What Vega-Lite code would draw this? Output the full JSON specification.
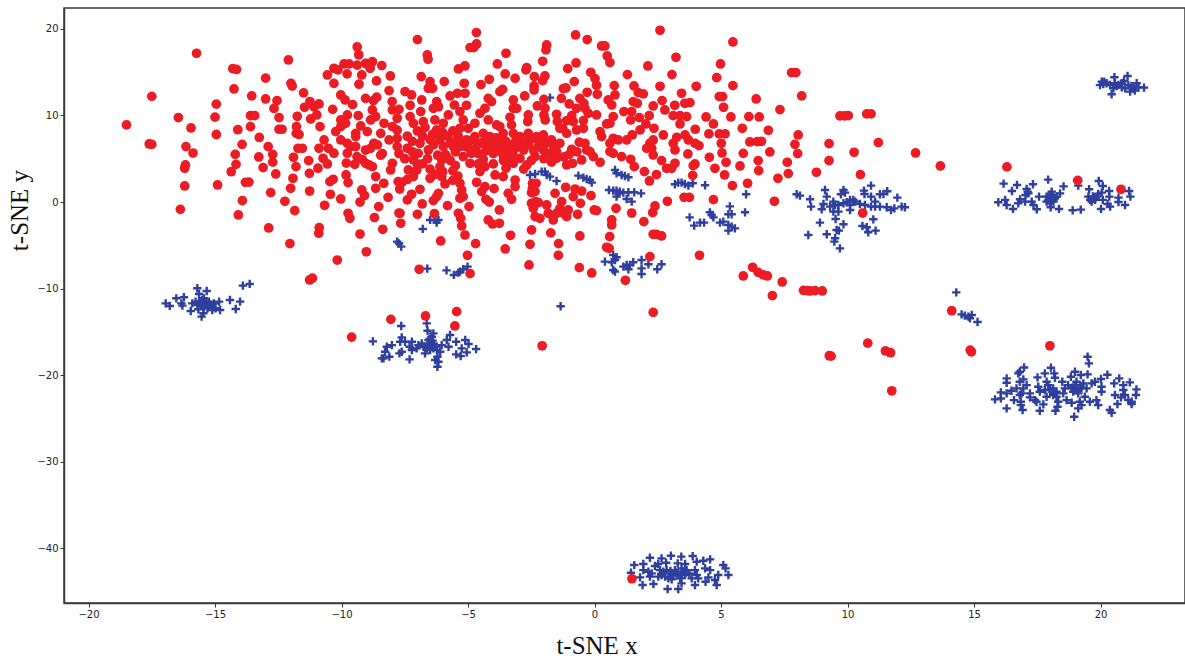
{"$schema":"https://vega.github.io/schema/vega-lite/v6.json","width":1121,"height":595,"autosize":{"type":"none"},"padding":{"left":64,"top":8,"right":0,"bottom":55},"background":"white","view":{"stroke":"#3a3a3a","strokeWidth":1.5,"fill":"white"},
"config":{"axis":{"grid":false,"labelFont":"DejaVu Sans","labelFontSize":10,"labelColor":"#222222","tickColor":"#333333","tickSize":4,"domainColor":"#3a3a3a","domainWidth":1.5,"titleFont":"Liberation Serif","titleFontSize":25,"titleFontWeight":"normal","titleColor":"#111111"}},
"datasets":{"blue":[
{"x":-1.76,"y":12.05},{"x":-6.5,"y":-2.07},{"x":-6.31,"y":-2.07},{"x":-6.17,"y":-2.07},{"x":-6.24,"y":-2.38},{"x":-6.79,"y":-3.11},{"x":-7.8,"y":-4.58},{"x":-7.73,"y":-4.77},{"x":-7.64,"y":-5.15},{"x":-2.55,"y":3.12},{"x":-2.35,"y":3.24},{"x":-2.09,"y":3.51},{"x":-1.96,"y":3.51},{"x":-1.89,"y":3.12},{"x":-1.76,"y":2.93},{"x":-1.5,"y":2.43},{"x":-0.64,"y":3.05},{"x":-0.44,"y":2.81},{"x":-0.31,"y":2.66},{"x":-0.18,"y":2.54},{"x":-0.11,"y":2.24},{"x":0.81,"y":3.7},{"x":0.87,"y":3.32},{"x":1.07,"y":3.12},{"x":1.2,"y":3},{"x":1.34,"y":2.85},{"x":3.18,"y":2.05},{"x":3.31,"y":2.24},{"x":3.44,"y":2.24},{"x":3.57,"y":2.08},{"x":3.71,"y":1.89},{"x":3.88,"y":2.16},{"x":4.37,"y":1.93},{"x":5.99,"y":0.89},{"x":7.99,"y":0.89},{"x":0.57,"y":1.39},{"x":0.74,"y":1.31},{"x":0.87,"y":1.31},{"x":1,"y":1.2},{"x":0.87,"y":0.62},{"x":1.14,"y":1.08},{"x":1.34,"y":1.12},{"x":1.57,"y":1.12},{"x":1.84,"y":1},{"x":1.27,"y":0.35},{"x":1.47,"y":0.04},{"x":0.94,"y":1},{"x":3.76,"y":-1.77},{"x":3.94,"y":-2.73},{"x":4.17,"y":-2.38},{"x":4.33,"y":-2.38},{"x":4.56,"y":-1.19},{"x":4.63,"y":-1.5},{"x":4.7,"y":-1.77},{"x":5.35,"y":-0.5},{"x":5.29,"y":-1.42},{"x":5.42,"y":-1.42},{"x":5.95,"y":-1.19},{"x":4.96,"y":-2.38},{"x":5.09,"y":-2.27},{"x":5.29,"y":-2.65},{"x":5.42,"y":-2.84},{"x":5.55,"y":-3.04},{"x":5.29,"y":-3.31},{"x":0.74,"y":-6.12},{"x":0.87,"y":-6.38},{"x":0.81,"y":-6.69},{"x":0.41,"y":-6.88},{"x":0.68,"y":-6.96},{"x":0.74,"y":-7.85},{"x":0.81,"y":-8.04},{"x":1.14,"y":-7.46},{"x":1.27,"y":-7.27},{"x":1.4,"y":-7.27},{"x":1.53,"y":-6.96},{"x":1.34,"y":-7.77},{"x":1.86,"y":-6.69},{"x":2.13,"y":-7.19},{"x":2.65,"y":-7.19},{"x":1.86,"y":-7.66},{"x":1.86,"y":-8.31},{"x":2.48,"y":-7.77},{"x":-6.61,"y":-7.69},{"x":-5.85,"y":-7.89},{"x":-5.56,"y":-8.42},{"x":-5.32,"y":-8.04},{"x":-5.19,"y":-7.77},{"x":-5.02,"y":-7.46},{"x":-5.38,"y":-8.15},{"x":-1.34,"y":-12.04},
{"x":-16.95,"y":-11.7},{"x":-16.79,"y":-12},{"x":-16.53,"y":-11.12},{"x":-16.23,"y":-11},{"x":-16.33,"y":-11.7},{"x":-16.29,"y":-11.97},{"x":-15.7,"y":-9.96},{"x":-15.63,"y":-10.62},{"x":-15.33,"y":-10.27},{"x":-15.96,"y":-12.58},{"x":-15.66,"y":-12.39},{"x":-15.46,"y":-12.85},{"x":-15.53,"y":-13.24},{"x":-15.9,"y":-11.7},{"x":-15.77,"y":-11.5},{"x":-15.63,"y":-11.5},{"x":-15.5,"y":-11.31},{"x":-15.44,"y":-11.12},{"x":-15.37,"y":-11.5},{"x":-15.24,"y":-11.5},{"x":-15.5,"y":-11.89},{"x":-15.37,"y":-11.89},{"x":-15.3,"y":-12.27},{"x":-15.17,"y":-11.89},{"x":-15.11,"y":-12.47},{"x":-15.04,"y":-11.7},{"x":-14.84,"y":-11.5},{"x":-14.98,"y":-12.27},{"x":-14.8,"y":-12.47},{"x":-14.41,"y":-11.31},{"x":-14.01,"y":-11.5},{"x":-14.18,"y":-12.35},{"x":-13.9,"y":-9.66},{"x":-13.63,"y":-9.46},{"x":-15.57,"y":-11.7},{"x":-15.44,"y":-12.16},{"x":-15.7,"y":-11.89},{"x":-15.45,"y":-11.6},{"x":-15.35,"y":-11.7},{"x":-15.55,"y":-11.45},{"x":-15.25,"y":-11.7},
{"x":-8.76,"y":-16.09},{"x":-7.64,"y":-14.32},{"x":-6.63,"y":-14.01},{"x":-6.6,"y":-14.86},{"x":-6.37,"y":-15.17},{"x":-7.62,"y":-15.63},{"x":-7.68,"y":-16.13},{"x":-7.49,"y":-16.13},{"x":-8.01,"y":-16.52},{"x":-8.21,"y":-16.71},{"x":-8.28,"y":-17.29},{"x":-8.34,"y":-18.06},{"x":-8.11,"y":-17.86},{"x":-7.71,"y":-17.48},{"x":-7.62,"y":-17.29},{"x":-7.22,"y":-16.13},{"x":-7.31,"y":-16.71},{"x":-7.22,"y":-17.09},{"x":-7.31,"y":-18.17},{"x":-6.96,"y":-16.52},{"x":-6.83,"y":-16.32},{"x":-6.76,"y":-16.71},{"x":-7.03,"y":-16.9},{"x":-6.56,"y":-15.94},{"x":-6.5,"y":-16.32},{"x":-6.43,"y":-15.55},{"x":-6.63,"y":-16.9},{"x":-6.5,"y":-17.09},{"x":-6.37,"y":-16.9},{"x":-6.7,"y":-17.48},{"x":-6.23,"y":-17.09},{"x":-6.1,"y":-17.29},{"x":-6.04,"y":-16.52},{"x":-5.84,"y":-15.94},{"x":-5.77,"y":-16.71},{"x":-5.71,"y":-15.36},{"x":-5.47,"y":-16.13},{"x":-5.11,"y":-15.94},{"x":-4.98,"y":-16.4},{"x":-5.25,"y":-16.9},{"x":-5.05,"y":-17.36},{"x":-4.68,"y":-16.98},{"x":-5.47,"y":-17.59},{"x":-5.29,"y":-17.79},{"x":-6.21,"y":-17.86},{"x":-6.17,"y":-18.44},{"x":-6.21,"y":-19.02},{"x":-6.3,"y":-18.25},{"x":-8.41,"y":-18.06},{"x":-6.45,"y":-16.6},{"x":-6.35,"y":-16.4},{"x":-6.6,"y":-16.5},{"x":-6.4,"y":-16},{"x":-6.5,"y":-15.8},{"x":-6.25,"y":-16.7},
{"x":2.19,"y":-41.07},{"x":1.57,"y":-41.92},{"x":1.93,"y":-41.8},{"x":1.44,"y":-42.8},{"x":1.8,"y":-43.34},{"x":1.9,"y":-44.23},{"x":2.33,"y":-44.11},{"x":1.93,"y":-42.5},{"x":2.13,"y":-42.69},{"x":2.19,"y":-43.26},{"x":2.26,"y":-42.88},{"x":2.39,"y":-42.03},{"x":2.52,"y":-41.8},{"x":2.65,"y":-41.15},{"x":2.83,"y":-41.65},{"x":3.02,"y":-40.84},{"x":3.43,"y":-40.95},{"x":3.88,"y":-40.88},{"x":4.04,"y":-41.53},{"x":4.3,"y":-41.42},{"x":4.57,"y":-41.26},{"x":3.29,"y":-41.72},{"x":3.58,"y":-41.8},{"x":5.09,"y":-41.92},{"x":5.18,"y":-42.3},{"x":5.29,"y":-43.07},{"x":4.89,"y":-43.07},{"x":4.76,"y":-43.65},{"x":4.83,"y":-44.23},{"x":4.37,"y":-42.3},{"x":4.57,"y":-42.5},{"x":4.5,"y":-43.34},{"x":4.39,"y":-43.84},{"x":3.97,"y":-44.23},{"x":3.84,"y":-43.46},{"x":3.97,"y":-42.5},{"x":4.04,"y":-43.07},{"x":2.59,"y":-42.5},{"x":2.72,"y":-42.69},{"x":2.85,"y":-42.5},{"x":2.98,"y":-42.88},{"x":3.12,"y":-43.07},{"x":2.65,"y":-43.07},{"x":2.79,"y":-43.26},{"x":2.92,"y":-43.46},{"x":3.18,"y":-42.5},{"x":3.31,"y":-42.88},{"x":3.44,"y":-42.3},{"x":3.51,"y":-42.69},{"x":3.64,"y":-42.5},{"x":3.58,"y":-43.07},{"x":3.38,"y":-43.46},{"x":3.05,"y":-43.57},{"x":3.44,"y":-44.03},{"x":3.31,"y":-44.69},{"x":2.89,"y":-44.69},{"x":4.1,"y":-43.46},{"x":2.52,"y":-43.26},{"x":3.25,"y":-43.1},{"x":3.45,"y":-42.95},{"x":3.6,"y":-42.8},{"x":3.75,"y":-42.9},{"x":3,"y":-42.6},{"x":3.2,"y":-42.75},
{"x":19.49,"y":-17.86},{"x":19.54,"y":-18.63},{"x":16.98,"y":-19.1},{"x":16.81,"y":-19.6},{"x":16.75,"y":-19.79},{"x":18.04,"y":-19.13},{"x":17.8,"y":-19.79},{"x":18.17,"y":-19.79},{"x":18.2,"y":-20.29},{"x":17.51,"y":-20.25},{"x":16.29,"y":-20.37},{"x":16.29,"y":-20.87},{"x":16.81,"y":-20.75},{"x":16.95,"y":-20.48},{"x":18.99,"y":-19.6},{"x":18.83,"y":-20.17},{"x":19.22,"y":-19.98},{"x":19.49,"y":-19.9},{"x":20.27,"y":-19.94},{"x":20.02,"y":-20.44},{"x":20.74,"y":-20.37},{"x":20.54,"y":-20.94},{"x":21.16,"y":-20.83},{"x":17.08,"y":-21.14},{"x":16.95,"y":-21.52},{"x":16.68,"y":-21.52},{"x":16.48,"y":-21.79},{"x":16.29,"y":-22.1},{"x":16.06,"y":-21.98},{"x":16.06,"y":-22.68},{"x":15.83,"y":-22.79},{"x":16.58,"y":-22.87},{"x":16.88,"y":-22.1},{"x":16.81,"y":-22.29},{"x":16.85,"y":-23.06},{"x":16.85,"y":-23.45},{"x":16.29,"y":-23.83},{"x":16.92,"y":-24.02},{"x":17.21,"y":-22.1},{"x":17.21,"y":-22.56},{"x":17.41,"y":-22.87},{"x":17.47,"y":-23.06},{"x":17.74,"y":-23.37},{"x":17.6,"y":-24.1},{"x":17.54,"y":-21.33},{"x":17.6,"y":-21.9},{"x":17.87,"y":-20.75},{"x":17.93,"y":-21.14},{"x":17.8,"y":-21.71},{"x":18,"y":-21.71},{"x":18.13,"y":-21.52},{"x":18.26,"y":-21.9},{"x":18.13,"y":-22.29},{"x":17.87,"y":-22.48},{"x":18.26,"y":-22.48},{"x":18.33,"y":-23.06},{"x":18.3,"y":-23.64},{"x":18.22,"y":-24.1},{"x":18.49,"y":-20.75},{"x":18.59,"y":-21.52},{"x":18.53,"y":-22.1},{"x":18.66,"y":-22.87},{"x":18.86,"y":-23.18},{"x":18.72,"y":-21.14},{"x":18.86,"y":-21.52},{"x":18.99,"y":-21.14},{"x":19.05,"y":-20.75},{"x":18.92,"y":-21.9},{"x":19.12,"y":-22.1},{"x":19.32,"y":-20.94},{"x":19.25,"y":-21.52},{"x":19.38,"y":-22.48},{"x":19.18,"y":-23.06},{"x":19.25,"y":-23.45},{"x":19.12,"y":-23.83},{"x":18.96,"y":-24.79},{"x":19.45,"y":-21.52},{"x":19.65,"y":-20.94},{"x":19.78,"y":-20.75},{"x":20.04,"y":-21.33},{"x":20.04,"y":-21.9},{"x":19.58,"y":-23.06},{"x":19.84,"y":-22.87},{"x":19.91,"y":-23.45},{"x":20.37,"y":-24.02},{"x":20.44,"y":-24.33},{"x":20.57,"y":-22.29},{"x":20.67,"y":-23.33},{"x":20.9,"y":-21.14},{"x":20.9,"y":-21.71},{"x":20.96,"y":-22.29},{"x":20.81,"y":-22.56},{"x":21.1,"y":-22.87},{"x":21.23,"y":-23.06},{"x":21.23,"y":-23.33},{"x":21.42,"y":-21.64},{"x":21.4,"y":-22.29},{"x":18.1,"y":-21.9},{"x":18.2,"y":-22.1},{"x":19,"y":-21.6},{"x":19.1,"y":-21.8},{"x":18.9,"y":-21.4},{"x":19.2,"y":-21.2},
{"x":19.98,"y":13.5},{"x":20.05,"y":13.9},{"x":20.15,"y":13.9},{"x":20.24,"y":13.71},{"x":20.38,"y":13.51},{"x":20.55,"y":14.4},{"x":20.57,"y":13.71},{"x":20.51,"y":13.13},{"x":20.44,"y":12.44},{"x":20.71,"y":13.51},{"x":20.84,"y":13.71},{"x":20.93,"y":13.98},{"x":20.84,"y":13.25},{"x":20.97,"y":13.13},{"x":21.07,"y":14.55},{"x":21.17,"y":12.74},{"x":21.3,"y":13.13},{"x":21.43,"y":13.71},{"x":21.5,"y":13.25},{"x":21.36,"y":12.86},{"x":21.72,"y":13.21},{"x":20.11,"y":13.63},{"x":21.1,"y":13.51},{"x":20.64,"y":13.4},{"x":21.23,"y":13.4},
{"x":16.17,"y":2.12},{"x":16.7,"y":1.97},{"x":16.5,"y":1.27},{"x":17.33,"y":2.05},{"x":17.93,"y":2.58},{"x":18.54,"y":1.81},{"x":19.12,"y":1.89},{"x":19.93,"y":2.43},{"x":20.09,"y":1.85},{"x":17.08,"y":1.5},{"x":17.15,"y":1},{"x":17.04,"y":0.81},{"x":15.96,"y":-0.03},{"x":16.23,"y":0.24},{"x":16.29,"y":-0.34},{"x":16.54,"y":-0.8},{"x":16.75,"y":-0.15},{"x":16.82,"y":0.31},{"x":17.02,"y":0.04},{"x":17.12,"y":1.2},{"x":17.28,"y":0.04},{"x":17.35,"y":-0.34},{"x":17.48,"y":-0.84},{"x":17.57,"y":0.62},{"x":17.87,"y":0.62},{"x":18,"y":0.81},{"x":18.07,"y":1.2},{"x":18.14,"y":0.62},{"x":17.94,"y":0.24},{"x":18.07,"y":0.24},{"x":18.2,"y":0.43},{"x":18.27,"y":0.62},{"x":18.4,"y":1},{"x":17.87,"y":0.04},{"x":18,"y":-0.15},{"x":18.14,"y":0.04},{"x":18.03,"y":-0.61},{"x":18.36,"y":-0.8},{"x":18.9,"y":-0.96},{"x":19.22,"y":-0.88},{"x":19.55,"y":1.47},{"x":19.52,"y":0.62},{"x":19.59,"y":0.24},{"x":19.72,"y":0.43},{"x":19.85,"y":0.62},{"x":19.91,"y":0.93},{"x":20.05,"y":1.08},{"x":19.65,"y":0.04},{"x":19.78,"y":0.24},{"x":20.34,"y":1.27},{"x":20.35,"y":0.62},{"x":20.09,"y":0.24},{"x":20.02,"y":-0.8},{"x":20.28,"y":-0.23},{"x":20.38,"y":-0.53},{"x":20.71,"y":0.5},{"x":20.71,"y":0},{"x":20.97,"y":-0.34},{"x":21.13,"y":1.27},{"x":21.18,"y":0.62},{"x":18,"y":0.45},{"x":18.1,"y":0.4},{"x":17.95,"y":0.6},{"x":19.7,"y":0.65},{"x":19.8,"y":0.4},
{"x":8.12,"y":0.74},{"x":8.52,"y":0.31},{"x":8.56,"y":-0.53},{"x":9.11,"y":1.39},{"x":9.18,"y":0.62},{"x":9.84,"y":1.39},{"x":9.9,"y":1.08},{"x":9.74,"y":0.89},{"x":10.65,"y":1.31},{"x":10.67,"y":0.93},{"x":10.93,"y":1.89},{"x":10.93,"y":0.62},{"x":11.28,"y":0.89},{"x":11.42,"y":0.93},{"x":11.57,"y":1.24},{"x":11.97,"y":0.5},{"x":8.98,"y":-0.84},{"x":9.05,"y":-0.23},{"x":9.31,"y":-0.53},{"x":9.44,"y":0.04},{"x":9.51,"y":-0.34},{"x":9.44,"y":-1.11},{"x":9.64,"y":-1.11},{"x":9.64,"y":-0.34},{"x":9.84,"y":-0.15},{"x":9.97,"y":-0.03},{"x":10.1,"y":0.24},{"x":10.23,"y":0.24},{"x":10.3,"y":0.04},{"x":10.1,"y":-0.34},{"x":10.1,"y":-0.92},{"x":10.49,"y":-0.23},{"x":10.69,"y":-0.34},{"x":10.93,"y":-0.53},{"x":11.09,"y":0.04},{"x":11.09,"y":-0.53},{"x":11.28,"y":-0.53},{"x":11.55,"y":-0.61},{"x":11.72,"y":-0.92},{"x":11.85,"y":-0.73},{"x":12.14,"y":-0.53},{"x":12.27,"y":-0.61},{"x":9.53,"y":-1.96},{"x":8.91,"y":-2.38},{"x":9.84,"y":-2.57},{"x":11.02,"y":-2},{"x":10.59,"y":-2.77},{"x":10.76,"y":-2.92},{"x":10.82,"y":-3.5},{"x":11.11,"y":-3.31},{"x":9.57,"y":-3.23},{"x":9.66,"y":-3.31},{"x":9.18,"y":-3.73},{"x":8.45,"y":-3.81},{"x":9.51,"y":-4.19},{"x":9.48,"y":-4.58},{"x":9.7,"y":-5.35},
{"x":14.3,"y":-10.43},{"x":14.51,"y":-12.97},{"x":14.64,"y":-13.12},{"x":14.78,"y":-13.24},{"x":14.91,"y":-13.04},{"x":14.84,"y":-13.43},{"x":15.14,"y":-13.85}
],"red":[
{"x":-15.73,"y":17.17},{"x":-12.1,"y":16.4},{"x":-9.38,"y":17.9},{"x":-9.32,"y":17},{"x":-14.3,"y":15.4},{"x":-14.15,"y":15.3},{"x":-13,"y":14.3},{"x":-17.5,"y":12.2},{"x":-14.25,"y":13.05},{"x":-12,"y":13.7},{"x":-11.95,"y":13.4},{"x":-11.5,"y":12.6},{"x":-13.55,"y":12.25},{"x":-13,"y":11.9},{"x":-12.55,"y":11.7},{"x":-14.95,"y":11.3},{"x":-12.67,"y":10.8},{"x":-16.45,"y":9.75},{"x":-15,"y":9.8},{"x":-18.5,"y":8.9},{"x":-15.95,"y":8.55},{"x":-13.6,"y":9.97},{"x":-13.43,"y":9.97},{"x":-12.47,"y":9.75},{"x":-13.6,"y":8.7},{"x":-14.1,"y":8.35},{"x":-14.95,"y":7.8},{"x":-12.47,"y":8.4},{"x":-12.35,"y":8.4},{"x":-13.25,"y":7.45},{"x":-17.6,"y":6.7},{"x":-17.5,"y":6.65},{"x":-16.15,"y":6.4},{"x":-15.87,"y":5.65},{"x":-13.93,"y":6.66},{"x":-12.9,"y":6.4},{"x":-14.2,"y":5.5},{"x":-13.27,"y":5.2},{"x":-12.72,"y":5.5},{"x":-12.72,"y":4.6},{"x":-16.17,"y":4.28},{"x":-16.2,"y":3.9},{"x":-14.17,"y":4.35},{"x":-13.1,"y":3.97},{"x":-14.36,"y":3.5},{"x":-12.6,"y":3.24},{"x":-13.8,"y":2.27},{"x":-13.66,"y":2.3},{"x":-14.9,"y":1.97},{"x":-16.2,"y":1.85},{"x":-12.8,"y":1.08},{"x":-13.92,"y":0.16},{"x":-12.24,"y":0.08},{"x":-16.37,"y":-0.85},{"x":-11.85,"y":-1},{"x":-14.08,"y":-1.5},{"x":-12.88,"y":-3},{"x":-10.88,"y":-2.96},{"x":-10.9,"y":-3.6},{"x":-12.04,"y":-4.8},{"x":-10.17,"y":-6.7},{"x":-9.02,"y":-5.75},{"x":-9.27,"y":-3.7},{"x":-8.37,"y":-3.15},{"x":-11.26,"y":-9},{"x":-11.15,"y":-8.8},{"x":-8.05,"y":-13.55},
{"x":-11.75,"y":9.9},{"x":-11.78,"y":8.7},{"x":-11.79,"y":7.93},{"x":-11.68,"y":7.8},{"x":-11.72,"y":6.2},{"x":-11.55,"y":6.2},{"x":-11.9,"y":5.16},{"x":-11.8,"y":4.08},{"x":-11.92,"y":2.74},{"x":-12.01,"y":1.58},{"x":-11.26,"y":1.27},{"x":-11.3,"y":4.78},{"x":-11.27,"y":3.3},{"x":-10.93,"y":3.9},{"x":-10.67,"y":-0.38},{"x":-10.46,"y":2.35},{"x":-10.33,"y":2.62},{"x":-10.44,"y":0.89},{"x":-10.03,"y":0.35},{"x":-9.74,"y":2.24},{"x":-9.82,"y":3.12},{"x":-9.74,"y":-1.3},{"x":-9.67,"y":-1.88},{"x":-9.2,"y":1.39},{"x":-9.09,"y":0.74},{"x":-9.27,"y":0},{"x":-8.65,"y":1.58},{"x":-8.33,"y":2.16},{"x":-8.16,"y":0.54},{"x":-8.53,"y":-0.53},{"x":-8.7,"y":-1.8},{"x":-7.73,"y":-1.27},{"x":-7.66,"y":-2.46},
{"x":-9.77,"y":10.05},{"x":-9.34,"y":9.97},{"x":-9.56,"y":11.24},{"x":-10.03,"y":12.36},{"x":-9.86,"y":11.78},{"x":-10.35,"y":10.7},{"x":-10.85,"y":8.7},{"x":-10.98,"y":10.05},{"x":-11.22,"y":9.59},{"x":-11.46,"y":10.94},{"x":-11.25,"y":11.6},{"x":-11.09,"y":11},{"x":-10.89,"y":11.32},{"x":-10.56,"y":14.67},{"x":-10.3,"y":15.44},{"x":-10.14,"y":15.25},{"x":-9.9,"y":15.94},{"x":-9.7,"y":15.94},{"x":-9.78,"y":14.8},{"x":-9.38,"y":15.8},{"x":-9.2,"y":14.67},{"x":-9.05,"y":16},{"x":-8.78,"y":16.2},{"x":-8.87,"y":15.44},{"x":-8.41,"y":15.75},{"x":-8.07,"y":14.55},{"x":-8.62,"y":13.98},{"x":-10.3,"y":13.7},{"x":-9.31,"y":13.6},{"x":-8.12,"y":12.86},{"x":-9.05,"y":11.97},{"x":-8.74,"y":11.7},{"x":-8.61,"y":12.1},{"x":-8,"y":11.59},{"x":-7.99,"y":10.63},{"x":-7.73,"y":10.7},{"x":-8.78,"y":10.63},{"x":-8.65,"y":9.86},{"x":-8.85,"y":9.47},{"x":-8.32,"y":9.09},{"x":-7.8,"y":9.67},{"x":-7.99,"y":8.7},{"x":-7.8,"y":8.3},{"x":-8.98,"y":8.13},{"x":-8.45,"y":7.93},{"x":-9.24,"y":8.78},{"x":-9.44,"y":7.93},{"x":-9.44,"y":7.55},{"x":-10.03,"y":9.47},{"x":-9.84,"y":9.09},{"x":-10.03,"y":8.7},{"x":-10.03,"y":7.16},{"x":-10.23,"y":8.13},{"x":-9.77,"y":6.78},{"x":-9.64,"y":6.4},{"x":-9.44,"y":6.4},{"x":-9.77,"y":5.63},{"x":-9.39,"y":5.24},{"x":-9.05,"y":6},{"x":-8.72,"y":6.78},{"x":-8.85,"y":6.2},{"x":-8.58,"y":6.6},{"x":-8.39,"y":5.6},{"x":-8.45,"y":5.4},{"x":-10.69,"y":7.16},{"x":-10.89,"y":6.2},{"x":-10.52,"y":6.2},{"x":-10.3,"y":5.63},{"x":-10.73,"y":5.05},{"x":-10.56,"y":4.39},{"x":-9.81,"y":4.5},{"x":-9.48,"y":4.35},{"x":-9.05,"y":4.47},{"x":-8.91,"y":4.28},{"x":-8.78,"y":4.08},{"x":-9.18,"y":4.9},{"x":-8.65,"y":2.93},{"x":-7.99,"y":4.47},{"x":-8.06,"y":3.7},{"x":-7.8,"y":6.4},{"x":-7.73,"y":5.6},{"x":-8.12,"y":7.16},{"x":-7.8,"y":7.35},{"x":-7.76,"y":2.35},{"x":-7.7,"y":1.5},
{"x":-7,"y":18.75},{"x":-4.67,"y":19.56},{"x":-4.92,"y":17.83},{"x":-4.66,"y":18.25},{"x":-4.77,"y":17.83},{"x":-6.61,"y":16.98},{"x":-6.58,"y":16.48},{"x":-3.5,"y":17.17},{"x":-0.75,"y":19.29},{"x":-0.29,"y":18.75},{"x":0.28,"y":18.02},{"x":0.41,"y":18.02},{"x":2.59,"y":19.83},{"x":5.47,"y":18.48},{"x":-1.89,"y":18.13},{"x":-1.92,"y":17.56},{"x":0.5,"y":16.86},{"x":0.61,"y":16.1},{"x":3.22,"y":16.71},{"x":2.11,"y":15.71},{"x":4.98,"y":15.94},{"x":-2.05,"y":16.25},{"x":-3.84,"y":15.94},{"x":-0.73,"y":16.05},{"x":-1.06,"y":15.4},{"x":-5.38,"y":15.36},{"x":-5.12,"y":15.71},{"x":-2.68,"y":15.52},{"x":-2.71,"y":15.25},{"x":-3.53,"y":14.78},{"x":-6.85,"y":14.48},{"x":-5.94,"y":13.9},{"x":-6.5,"y":13.9},{"x":-6.57,"y":13.13},{"x":-6.4,"y":13.13},{"x":-5.15,"y":13.71},{"x":-4.49,"y":13.55},{"x":-4.16,"y":14.17},{"x":-3.14,"y":14.28},{"x":-2.38,"y":14.48},{"x":-1.96,"y":14.55},{"x":-2.05,"y":14.01},{"x":-0.15,"y":14.98},{"x":0.02,"y":14.25},{"x":0.08,"y":13.48},{"x":-0.8,"y":13.9},{"x":1.3,"y":14.71},{"x":3.06,"y":14.71},{"x":4.83,"y":14.36},{"x":7.79,"y":14.94},{"x":7.96,"y":14.94},{"x":5.47,"y":13.44},{"x":4.02,"y":13.36},{"x":2.59,"y":13.36},{"x":1.56,"y":13.4},{"x":1.73,"y":12.63},{"x":1.93,"y":12.48},{"x":0.78,"y":13.44},{"x":0.81,"y":12.36},{"x":3.44,"y":12.55},{"x":-1.23,"y":13.09},{"x":-1.13,"y":13.17},{"x":-0.29,"y":12.67},{"x":0.11,"y":12.44},{"x":-2.39,"y":13.4},{"x":-2.39,"y":12.94},{"x":-3.74,"y":12.74},{"x":-3.63,"y":13},{"x":-2.76,"y":12.24},{"x":-2,"y":11.85},{"x":-1.31,"y":11.97},{"x":-1,"y":11.32},{"x":-0.58,"y":11.97},{"x":-0.42,"y":11.4},{"x":0.54,"y":11.78},{"x":0.68,"y":11.2},{"x":1.53,"y":11.59},{"x":1.69,"y":11.4},{"x":2.67,"y":11.71},{"x":3.17,"y":11.17},{"x":3.57,"y":11.4},{"x":3.77,"y":11.47},{"x":4.93,"y":12.17},{"x":5.06,"y":12.17},{"x":6.39,"y":11.9},{"x":5.1,"y":10.94},{"x":2.32,"y":11.09},{"x":2.78,"y":10.63},{"x":1.16,"y":10.44},{"x":1.47,"y":10.44},{"x":7.33,"y":10.67},{"x":6.1,"y":9.86},{"x":6.51,"y":9.82},{"x":5.39,"y":9.82},{"x":4.41,"y":9.82},{"x":3.11,"y":9.97},{"x":3.38,"y":9.97},{"x":3.64,"y":9.86},{"x":3.38,"y":9.01},{"x":2.16,"y":9.97},{"x":1.77,"y":9.74},{"x":1.43,"y":9.47},{"x":-0.71,"y":10.82},{"x":-0.38,"y":10.82},{"x":-0.25,"y":10.24},{"x":-0.9,"y":9.97},{"x":0.08,"y":10.05},{"x":0.74,"y":9.86},{"x":0.61,"y":9.09},{"x":0.48,"y":9.01},{"x":-1.1,"y":9.4},{"x":-0.84,"y":9.28},{"x":-0.44,"y":9.4},{"x":-1.5,"y":10.13},{"x":-1.47,"y":9.28},{"x":-1.37,"y":8.51},{"x":-1.96,"y":10.82},{"x":-2,"y":10.05},{"x":-1.95,"y":9.47},{"x":-2.26,"y":11.09},{"x":-2.62,"y":10.05},{"x":-2.64,"y":9.28},{"x":-3.21,"y":10.82},{"x":-3.08,"y":10.82},{"x":-3.21,"y":11.78},{"x":-4.2,"y":11.97},{"x":-4.07,"y":11.59},{"x":-4.33,"y":10.82},{"x":-4.53,"y":10.24},{"x":-4.2,"y":9.47},{"x":-3.34,"y":9.78},{"x":-3.28,"y":8.9},{"x":-3.87,"y":8.9},{"x":-3.74,"y":8.7},{"x":-4.73,"y":9.09},{"x":-5.06,"y":11.17},{"x":-5.54,"y":11.2},{"x":-5.42,"y":12.55},{"x":-5.12,"y":12.55},{"x":-5.71,"y":12.24},{"x":-6.24,"y":11.59},{"x":-6.37,"y":10.82},{"x":-6.17,"y":11},{"x":-6.83,"y":11.78},{"x":-6.87,"y":10.44},{"x":-7.29,"y":11.17},{"x":-7.23,"y":12.36},{"x":-7.49,"y":12.74},{"x":-7.29,"y":9.86},{"x":-7.16,"y":9.09},{"x":-6.77,"y":9.28},{"x":-6.31,"y":9.47},{"x":-5.78,"y":10.05},{"x":-5.98,"y":9.09},{"x":-6.24,"y":8.32},{"x":-5.32,"y":10.44},{"x":-5.19,"y":9.47},{"x":-4.99,"y":8.51},{"x":-5.32,"y":8.51},{"x":-5.38,"y":7.55},{"x":-5.06,"y":7.16},{"x":-4.73,"y":7.55},{"x":-4.4,"y":7.93},{"x":-4.13,"y":7.55},{"x":-3.8,"y":7.16},{"x":-3.61,"y":7.93},{"x":-3.21,"y":7.93},{"x":-2.95,"y":7.55},{"x":-2.62,"y":7.93},{"x":-2.29,"y":7.55},{"x":-2.02,"y":7.74},{"x":-1.7,"y":7.16},{"x":-1.37,"y":6.78},{"x":-1.1,"y":7.93},{"x":-1.26,"y":8.51},{"x":-0.71,"y":8.32},{"x":-0.44,"y":8.51},{"x":0.22,"y":8.13},{"x":0.28,"y":7.55},{"x":0.74,"y":7.36},{"x":0.61,"y":6.78},{"x":0.94,"y":7.16},{"x":1.27,"y":7.16},{"x":1.49,"y":7.74},{"x":1.8,"y":8.32},{"x":2.03,"y":9.01},{"x":2.35,"y":8.51},{"x":2.72,"y":7.74},{"x":3.25,"y":7.47},{"x":3.58,"y":7.74},{"x":3.71,"y":7.16},{"x":3.97,"y":6.78},{"x":4.13,"y":6.51},{"x":3.98,"y":8.4},{"x":4.7,"y":9.01},{"x":4.52,"y":7.86},{"x":4.93,"y":7.86},{"x":5.16,"y":7.86},{"x":5.01,"y":6.78},{"x":5.04,"y":5.66},{"x":5.84,"y":8.51},{"x":6.87,"y":8.28},{"x":6.14,"y":6.93},{"x":6.43,"y":6.97},{"x":6.6,"y":7.01},{"x":5.88,"y":5.62},{"x":7.92,"y":6.66},{"x":8.05,"y":7.74},{"x":8.03,"y":5.59},{"x":6.93,"y":5.78},{"x":4.54,"y":5.16},{"x":3.69,"y":5.55},{"x":2.32,"y":7.16},{"x":2.19,"y":6.78},{"x":2.06,"y":6.2},{"x":2.26,"y":6.2},{"x":3.11,"y":6.78},{"x":3.18,"y":6.01},{"x":2.32,"y":5.43},{"x":2.65,"y":4.78},{"x":3.18,"y":4.47},{"x":2.85,"y":3.89},{"x":3.05,"y":3.89},{"x":3.97,"y":4.39},{"x":3.9,"y":4.2},{"x":4.76,"y":3.89},{"x":5.2,"y":4.59},{"x":5.75,"y":4.16},{"x":6.47,"y":4.78},{"x":6.49,"y":3.62},{"x":7.62,"y":4.59},{"x":7.66,"y":3.28},{"x":7.25,"y":2.74},{"x":5.14,"y":3.12},{"x":3.88,"y":3.08},{"x":2.45,"y":3.16},{"x":1.97,"y":3.51},{"x":2.17,"y":2.43},{"x":1.43,"y":4.93},{"x":1.57,"y":4.08},{"x":1.07,"y":5.24},{"x":0.74,"y":5.62},{"x":0.61,"y":5.82},{"x":0.22,"y":4.59},{"x":-0.05,"y":5.24},{"x":-0.18,"y":5.82},{"x":-0.38,"y":6.78},{"x":-0.31,"y":6.01},{"x":-0.51,"y":4.85},{"x":-0.9,"y":6.09},{"x":-0.87,"y":4.47},{"x":-1.1,"y":4.28},{"x":-1.5,"y":5.05},{"x":-1.76,"y":5.62},{"x":-2.02,"y":6.01},{"x":-2.22,"y":6.4},{"x":-2.35,"y":5.24},{"x":-2.68,"y":4.28},{"x":-2.95,"y":5.05},{"x":-3.21,"y":4.47},{"x":-3.21,"y":5.24},{"x":-3.47,"y":6.2},{"x":-3.74,"y":6.4},{"x":-4,"y":6.78},{"x":-4.26,"y":6.4},{"x":-4.53,"y":6.78},{"x":-4.86,"y":5.62},{"x":-5.19,"y":5.24},{"x":-5.32,"y":6.4},{"x":-5.45,"y":7.16},{"x":-5.58,"y":6.4},{"x":-5.85,"y":5.24},{"x":-6.04,"y":4.85},{"x":-5.98,"y":6.4},{"x":-6.11,"y":7.16},{"x":-6.37,"y":6.59},{"x":-6.57,"y":6.01},{"x":-6.9,"y":6.78},{"x":-6.97,"y":5.62},{"x":-7.16,"y":4.85},{"x":-7.36,"y":3.7},{"x":-7.03,"y":3.7},{"x":-7.16,"y":2.93},{"x":-6.11,"y":4.08},{"x":-6.04,"y":2.93},{"x":-5.91,"y":2.08},{"x":-6.5,"y":2.74},{"x":-6.9,"y":1.47},{"x":-7.23,"y":0.89},{"x":-7.4,"y":0.24},{"x":-6.17,"y":1},{"x":-6.24,"y":0.62},{"x":-6.37,"y":0.16},{"x":-6.81,"y":-0.23},{"x":-7.69,"y":-1.3},{"x":-7,"y":-1.42},{"x":-6.33,"y":-1.34},{"x":-5.81,"y":-0.42},{"x":-5.32,"y":2.16},{"x":-5.25,"y":1.39},{"x":-5.32,"y":0.43},{"x":-5.19,"y":0.62},{"x":-4.96,"y":-0.53},{"x":-5.38,"y":-1.3},{"x":-5.29,"y":-1.88},{"x":-5.25,"y":-2.77},{"x":-5.12,"y":-3.81},{"x":-4.7,"y":-4.81},{"x":-5.02,"y":-6.15},{"x":-6.08,"y":-4.5},{"x":-6.93,"y":-7.77},{"x":-4.92,"y":-8.27},{"x":-5.45,"y":-12.66},{"x":-5.52,"y":-14.31},{"x":-6.68,"y":-13.16},{"x":-4.92,"y":4.47},{"x":-4.53,"y":3.51},{"x":-4.33,"y":4.08},{"x":-4.66,"y":2.28},{"x":-4.46,"y":1.2},{"x":-4.33,"y":1.78},{"x":-3.97,"y":1.54},{"x":-3.93,"y":3.12},{"x":-3.61,"y":2.93},{"x":-3.14,"y":2.54},{"x":-3.14,"y":1.78},{"x":-3.41,"y":1},{"x":-3.28,"y":0.31},{"x":-4.29,"y":0.31},{"x":-4.16,"y":0},{"x":-3.76,"y":-0.92},{"x":-4.2,"y":-2.07},{"x":-4.03,"y":-2.54},{"x":-3.76,"y":-2.46},{"x":-3.32,"y":-3.84},{"x":-2.49,"y":-3.23},{"x":-2.55,"y":-4.88},{"x":-3.53,"y":-5.42},{"x":-2.59,"y":-7.27},{"x":-1.73,"y":-3.57},{"x":-1.42,"y":-4.81},{"x":-1.43,"y":-6.15},{"x":-0.58,"y":-3.92},{"x":-0.6,"y":-7.58},{"x":-0.11,"y":-8.19},{"x":-2.45,"y":2.16},{"x":-2.31,"y":2.16},{"x":-2.45,"y":1.58},{"x":-2.35,"y":1.2},{"x":-2.49,"y":1.08},{"x":-2.33,"y":0.04},{"x":-2.49,"y":-0.15},{"x":-2.22,"y":-0.07},{"x":-2.42,"y":-0.73},{"x":-2.35,"y":-1.69},{"x":-2.16,"y":-1.88},{"x":-1.89,"y":-0.34},{"x":-1.56,"y":1},{"x":-1.14,"y":1.7},{"x":-0.77,"y":1.5},{"x":-0.51,"y":1.27},{"x":-0.14,"y":0.74},{"x":-0.84,"y":0.62},{"x":-0.56,"y":-0.15},{"x":-0.67,"y":-1.42},{"x":-1.83,"y":-1.3},{"x":-1.3,"y":0.04},{"x":-1.37,"y":-0.73},{"x":-1.63,"y":-2.07},{"x":-1.5,"y":-1.3},{"x":-1.23,"y":-1.3},{"x":-1.1,"y":-1.69},{"x":-1.04,"y":-0.92},{"x":-0.01,"y":-0.92},{"x":0.08,"y":-1},{"x":0.85,"y":-0.73},{"x":1.47,"y":-1.27},{"x":0.68,"y":-2.07},{"x":0.68,"y":-2.65},{"x":0.6,"y":-4},{"x":0.48,"y":-5.23},{"x":0.58,"y":-5.35},{"x":1.95,"y":-2.27},{"x":2.3,"y":-1.23},{"x":2.39,"y":-0.46},{"x":2.88,"y":0.08},{"x":3.54,"y":0.54},{"x":3.75,"y":0.54},{"x":4.7,"y":0.27},{"x":7.11,"y":0.08},{"x":6.05,"y":2.16},{"x":5.45,"y":1.89},{"x":2.19,"y":-6.31},{"x":1.22,"y":-9.04},{"x":2.32,"y":-3.73},{"x":2.45,"y":-3.73},{"x":2.65,"y":-3.92},{"x":2.32,"y":-12.74},{"x":4.15,"y":-6.15},{"x":5.88,"y":-8.54},{"x":6.25,"y":-7.54},{"x":6.47,"y":-8.12},{"x":6.67,"y":-8.42},{"x":6.83,"y":-8.54},{"x":7.42,"y":-9.23},{"x":7.03,"y":-10.81},
{"x":-7.4,"y":7.6},{"x":-7.2,"y":7},{"x":-7,"y":8.2},{"x":-6.8,"y":7.6},{"x":-6.7,"y":8.6},{"x":-6.5,"y":7.2},{"x":-6.2,"y":7.8},{"x":-6,"y":8},{"x":-5.8,"y":7.6},{"x":-5.7,"y":6.8},{"x":-5.6,"y":8.2},{"x":-5.5,"y":5.8},{"x":-5.3,"y":7},{"x":-5.1,"y":6.4},{"x":-5,"y":6.9},{"x":-4.9,"y":6},{"x":-4.8,"y":7.2},{"x":-4.7,"y":6.2},{"x":-4.6,"y":5.6},{"x":-4.4,"y":6.9},{"x":-4.3,"y":5.9},{"x":-4.2,"y":7.2},{"x":-4.1,"y":6.1},{"x":-4,"y":5.6},{"x":-3.9,"y":7.4},{"x":-3.8,"y":5.9},{"x":-3.7,"y":6.9},{"x":-3.6,"y":5.3},{"x":-3.5,"y":7},{"x":-3.4,"y":5.6},{"x":-3.3,"y":6.6},{"x":-3.2,"y":6},{"x":-3.1,"y":7.2},{"x":-3,"y":6.4},{"x":-2.9,"y":6.9},{"x":-2.8,"y":6},{"x":-2.7,"y":7},{"x":-2.6,"y":6.6},{"x":-2.5,"y":7.3},{"x":-2.4,"y":5.9},{"x":-2.2,"y":7},{"x":-2,"y":7},{"x":-1.9,"y":6.8},{"x":-1.6,"y":6.3},{"x":-1.5,"y":5.8},{"x":-1.2,"y":5.2},{"x":-1,"y":5.5},{"x":-0.7,"y":5.8},{"x":-0.6,"y":6.9},{"x":-5.9,"y":5.5},{"x":-5.7,"y":4.8},{"x":-5.5,"y":4.2},{"x":-5.6,"y":3.6},{"x":-6,"y":3.5},{"x":-6.3,"y":3.2},{"x":-6.5,"y":3.8},{"x":-6.8,"y":4.4},{"x":-7,"y":4.4},{"x":-5.4,"y":3},{"x":-5.6,"y":2.5},{"x":-7.4,"y":2.6},{"x":-7.6,"y":2.3},{"x":-7.2,"y":5.8},{"x":-7.4,"y":6.2},{"x":-7.5,"y":5},{"x":-6.2,"y":5.4},{"x":-6.6,"y":5},{"x":-6.4,"y":7.8},{"x":-3.4,"y":4.6},{"x":-3.5,"y":3.9},{"x":-3.6,"y":4.8},{"x":-4.4,"y":4.9},{"x":-4.6,"y":4.4},{"x":-4,"y":4.4},{"x":-2.8,"y":3.8},{"x":-2.5,"y":4.8},{"x":-2,"y":5},{"x":-1.7,"y":4.6},
{"x":8.19,"y":12.25},{"x":9.7,"y":9.95},{"x":9.88,"y":9.95},{"x":10.03,"y":9.97},{"x":10.76,"y":10.17},{"x":10.93,"y":10.17},{"x":8.77,"y":3.43},{"x":9.27,"y":6.74},{"x":9.27,"y":4.78},{"x":10.26,"y":5.74},{"x":11.22,"y":6.85},{"x":12.69,"y":5.66},{"x":13.67,"y":4.16},{"x":10.51,"y":3.16},{"x":10.6,"y":-1.27},{"x":16.3,"y":4.05},{"x":19.1,"y":2.5},{"x":20.81,"y":1.47},{"x":8.26,"y":-10.2},{"x":8.39,"y":-10.23},{"x":8.52,"y":-10.27},{"x":8.72,"y":-10.23},{"x":9,"y":-10.27},{"x":14.12,"y":-12.55},{"x":9.35,"y":-17.8},{"x":9.28,"y":-17.75},{"x":10.8,"y":-16.3},{"x":11.5,"y":-17.2},{"x":11.7,"y":-17.4},{"x":11.75,"y":-21.8},{"x":14.85,"y":-17.1},{"x":14.9,"y":-17.3},{"x":18,"y":-16.6},{"x":1.48,"y":-43.5},{"x":-2.07,"y":-16.6},{"x":-9.6,"y":-15.6}
]},
"layer":[
{"data":{"name":"blue"},"mark":{"type":"point","shape":"M-1,0L1,0M0,-1L0,1","filled":false,"stroke":"#2e3f9e","strokeWidth":2.4,"size":70,"opacity":1,"clip":true},"encoding":{"x":{"field":"x","type":"quantitative","scale":{"domain":[-20.97,23.34],"nice":false,"zero":false},"axis":{"values":[-20,-15,-10,-5,0,5,10,15,20],"title":"t-SNE x","titleX":532.5,"titleY":30}},"y":{"field":"y","type":"quantitative","scale":{"domain":[-46.3,22.4],"nice":false,"zero":false},"axis":{"values":[-40,-30,-20,-10,0,10,20],"title":"t-SNE y","titleX":-32,"titleY":202}}}},
{"data":{"name":"red"},"mark":{"type":"circle","color":"#ec1c24","size":95,"opacity":1,"clip":true},"encoding":{"x":{"field":"x","type":"quantitative"},"y":{"field":"y","type":"quantitative"}}}
]}
